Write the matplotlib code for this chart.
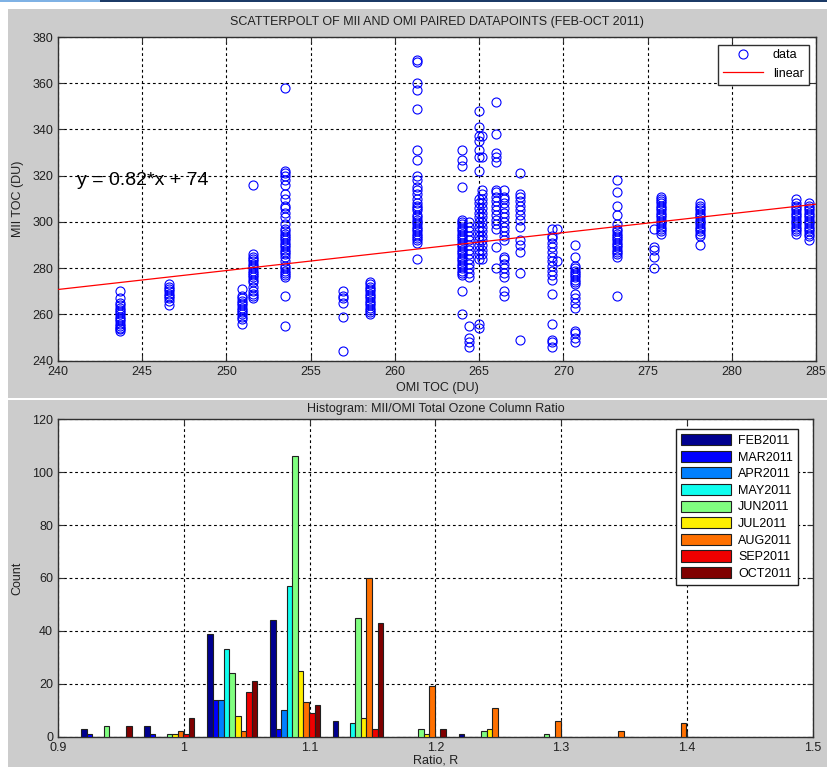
import matplotlib
matplotlib.use("Agg")
import matplotlib.pyplot as plt
from matplotlib.patches import Rectangle, Patch
from matplotlib.lines import Line2D
import numpy as np

plt.rcParams['font.family'] = ['Liberation Sans', 'DejaVu Sans']

# ---- scatter data: OMI TOC column value -> MII TOC values ----
omi_vals = [243.7, 246.6, 250.9, 251.6, 253.5, 256.9, 258.5, 261.3, 264.0, 264.4,
            265.0, 265.2, 266.0, 266.5, 267.4, 269.3, 269.6, 270.7, 273.2, 275.4,
            275.8, 278.1, 283.8, 284.6]
mii_vals = [
    [253, 253.5, 254, 255, 256, 257, 258, 259, 260, 261, 262, 263, 264, 265, 267, 270],
    [264, 266, 267, 268, 269, 270, 271, 272, 273],
    [256, 258, 259, 260, 261, 262, 263, 264, 265, 266, 267, 268, 271],
    [267, 268, 269, 270, 272, 274, 275, 276, 277, 278, 279, 280, 281, 282, 283, 284, 285, 286, 316],
    [255, 268, 276, 277, 278, 279, 280, 281, 283, 285, 286, 287, 288, 289, 290, 291, 292, 293,
     294, 295, 296, 297, 299, 302, 304, 306, 307, 310, 312, 316, 318, 320, 321, 322, 358],
    [244, 259, 265, 267, 268, 270],
    [260, 261, 262, 263, 264, 265, 266, 267, 268, 269, 270, 271, 272, 273, 274],
    [284, 291, 292, 293, 294, 295, 296, 297, 298, 299, 300, 301, 302, 303, 305, 306, 307, 308,
     310, 312, 314, 315, 318, 320, 327, 331, 349, 357, 360, 369, 370],
    [260, 270, 277, 278, 279, 280, 281, 282, 283, 284, 285, 286, 287, 288, 289, 290, 291, 292,
     293, 294, 295, 296, 297, 298, 299, 300, 301, 315, 324, 327, 331],
    [246, 248, 250, 255, 276, 278, 280, 282, 284, 286, 288, 290, 292, 294, 296, 298, 300],
    [254, 256, 284, 286, 288, 290, 292, 294, 296, 298, 300, 302, 304, 306, 308, 310, 322, 328,
     331, 335, 337, 341, 348],
    [284, 286, 288, 290, 292, 294, 296, 298, 300, 302, 304, 306, 308, 310, 312, 314, 328, 337],
    [280, 289, 297, 299, 301, 303, 305, 307, 309, 311, 313, 314, 326, 328, 330, 338, 352],
    [268, 270, 276, 278, 280, 282, 284, 285, 292, 294, 296, 298, 300, 302, 304, 306, 308, 310, 311, 314],
    [249, 278, 287, 290, 292, 298, 301, 303, 305, 307, 309, 311, 312, 321],
    [246, 248, 249, 256, 269, 275, 277, 279, 281, 283, 285, 287, 289, 291, 293, 294, 297],
    [283, 297],
    [248, 250, 252, 253, 263, 265, 267, 269, 273, 274, 275, 276, 277, 278, 279, 280, 281, 285, 290],
    [268, 285, 286, 287, 288, 289, 290, 291, 292, 293, 294, 295, 296, 297, 299, 303, 307, 313, 318],
    [280, 285, 288, 289, 297],
    [295, 296, 297, 298, 299, 300, 301, 302, 303, 304, 305, 306, 307, 308, 309, 310, 311],
    [290, 294, 295, 296, 297, 298, 299, 300, 301, 302, 303, 304, 305, 306, 307, 308],
    [295, 296, 297, 298, 299, 300, 301, 302, 303, 304, 305, 306, 307, 308, 310],
    [292, 294, 295, 296, 297, 298, 299, 300, 301, 302, 303, 304, 305, 306, 307, 308],
]
fit_coef = [0.82, 74]

# ---- histogram data ----
bin_centers = [0.9385, 0.9885, 1.0385, 1.0885, 1.1385, 1.1885, 1.2385, 1.2885, 1.3385, 1.3885]
months = ['FEB2011', 'MAR2011', 'APR2011', 'MAY2011', 'JUN2011',
          'JUL2011', 'AUG2011', 'SEP2011', 'OCT2011']
feb = [3, 4, 39, 44, 6, 0, 1, 0, 0, 0]
mar = [1, 1, 14, 3, 0, 0, 0, 0, 0, 0]
apr = [0, 0, 14, 10, 0, 0, 0, 0, 0, 0]
may = [0, 0, 33, 57, 5, 0, 0, 0, 0, 0]
jun = [4, 1, 24, 106, 45, 3, 2, 1, 0, 0]
jul = [0, 1, 8, 25, 7, 1, 3, 0, 0, 0]
aug = [0, 2, 2, 13, 60, 19, 11, 6, 2, 5]
sep = [0, 1, 17, 9, 3, 0, 0, 0, 0, 0]
octo = [4, 7, 21, 12, 43, 3, 0, 0, 0, 0]
counts = [feb, mar, apr, may, jun, jul, aug, sep, octo]
colors = ['#00008f', '#0000ff', '#0080ff', '#10ffef', '#80ff80',
          '#ffef00', '#ff7000', '#ef0000', '#800000']

W, H = 827, 767
fig = plt.figure(figsize=(W / 100, H / 100), dpi=100, facecolor='white')

def rect(x0, y0, x1, y1):
    # pixel box (top-left origin) -> figure fractions
    return [x0 / W, 1 - y1 / H, (x1 - x0) / W, (y1 - y0) / H]

# window decorations (behind the axes)
for box, col in [((8, 9, 827, 398), '#cccccc'), ((8, 400, 827, 767), '#cccccc'),
                 ((0, 0, 100, 2), '#7fb2e5'), ((100, 0, 827, 2), '#1b3a66')]:
    r = rect(*box)
    fig.patches.append(Rectangle((r[0], r[1]), r[2], r[3], transform=fig.transFigure,
                                 facecolor=col, edgecolor='none', zorder=-5))

grid_kw = dict(color='black', linestyle=(0, (2.5, 2.5)), linewidth=0.8)

def style(ax):
    ax.set_facecolor('white')
    for s in ax.spines.values():
        s.set_color('#303030')
        s.set_linewidth(1.0)
    ax.tick_params(direction='in', length=4, labelsize=9, colors='#303030',
                   top=True, right=True, labelcolor='#202020')
    ax.grid(True, **grid_kw)
    ax.set_axisbelow(True)

# ---- scatter ----
ax1 = fig.add_axes(rect(58, 37, 816, 360.7))
style(ax1)
xs = np.concatenate([[x] * len(v) for x, v in zip(omi_vals, mii_vals)])
ys = np.concatenate([np.array(v, dtype=float) for v in mii_vals])
ax1.plot(xs, ys, 'o', markerfacecolor='none', markeredgecolor='#0000ff',
         markersize=6.5, markeredgewidth=0.8, zorder=3)
xl = np.array([240, 285])
ax1.plot(xl, np.polyval(fit_coef, xl), color='red', linewidth=0.9, zorder=4)
ax1.set_xlim(240, 285)
ax1.set_ylim(240, 380)
ax1.set_xticks(np.arange(240, 286, 5))
ax1.set_yticks(np.arange(240, 381, 20))
ax1.text(241.1, 318, 'y = %.2f*x + %d' % (fit_coef[0], fit_coef[1]), fontsize=14,
         va='center', ha='left', zorder=5)
ax1.set_title('SCATTERPOLT OF MII AND OMI PAIRED DATAPOINTS (FEB-OCT 2011)',
              fontsize=9, pad=9, color='#202020')
ax1.set_xlabel('OMI TOC (DU)', fontsize=9, labelpad=3, color='#202020')
ax1.set_ylabel('MII TOC (DU)', fontsize=9, labelpad=6, color='#202020')
h1 = [Line2D([], [], marker='o', linestyle='none', markerfacecolor='none',
             markeredgecolor='#0000ff', markersize=6.5, markeredgewidth=0.8),
      Line2D([], [], color='red', linewidth=0.9)]
leg1 = ax1.legend(h1, ['data', 'linear'], loc='upper right', fontsize=9,
                  fancybox=False, framealpha=1, edgecolor='#303030',
                  borderaxespad=0.6, handlelength=3.2, markerfirst=True)
leg1.get_frame().set_linewidth(1.0)

# ---- histogram ----
ax2 = fig.add_axes(rect(58, 419.3, 812.7, 736.7))
style(ax2)
n = len(counts)
group_w = 0.8 * 0.05
bw = group_w / n
centers = np.array(bin_centers)
for i, (vals, col, lab) in enumerate(zip(counts, colors, months)):
    pos = centers - group_w / 2 + (i + 0.5) * bw
    ax2.bar(pos, vals, width=bw, color=col, edgecolor='#202020', linewidth=0.8,
            label=lab, zorder=3)
ax2.set_xlim(0.9, 1.5)
ax2.set_ylim(0, 120)
ax2.set_xticks(np.round(np.arange(0.9, 1.51, 0.1), 1))
ax2.set_xticklabels(['0.9', '1', '1.1', '1.2', '1.3', '1.4', '1.5'])
ax2.set_yticks(np.arange(0, 121, 20))
ax2.set_title('Histogram: MII/OMI Total Ozone Column Ratio', fontsize=9, pad=5,
              color='#202020')
ax2.set_xlabel('Ratio, R', fontsize=9, labelpad=1, color='#202020')
ax2.set_ylabel('Count', fontsize=9, labelpad=6, color='#202020')
h2 = [Patch(facecolor=c, edgecolor='#202020', linewidth=0.8) for c in colors]
leg2 = ax2.legend(h2, months, loc='upper right', fontsize=9, fancybox=False,
                  framealpha=1, edgecolor='#202020', borderaxespad=0.4,
                  handlelength=4.0, handleheight=1.0, labelspacing=0.3,
                  handletextpad=0.6, bbox_to_anchor=(0.987, 0.985))
leg2.get_frame().set_linewidth(1.0)

fig.savefig('out.png', dpi=100, facecolor='white')
